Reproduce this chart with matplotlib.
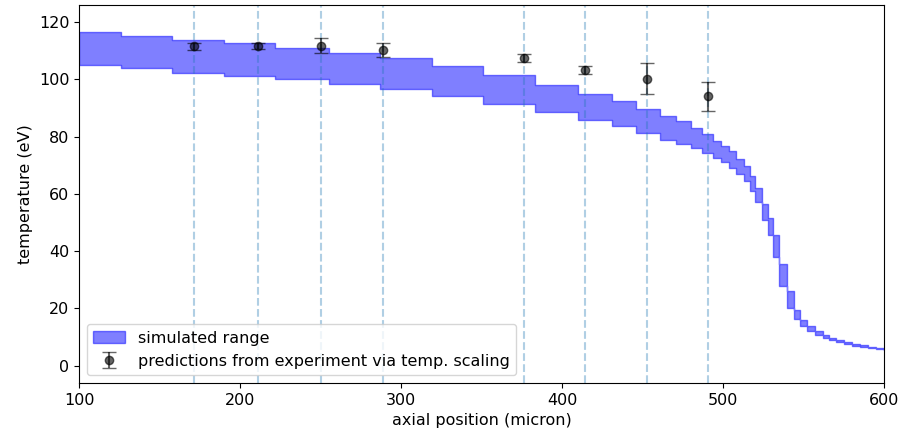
import numpy as np
import matplotlib
matplotlib.use('Agg')
import matplotlib.pyplot as plt

plt.rcParams['font.size'] = 11.5

# simulated temperature band (step edges in micron, upper / lower bound in eV)
x_sim = [100, 126, 158, 190, 222, 255, 287, 319, 351, 383, 410, 431, 446, 461,
         471, 480, 487, 494, 499, 504, 508, 513, 517, 520, 524, 528, 531, 535,
         540, 544, 548, 552, 557, 562, 566, 570, 575, 580, 585, 590, 595, 600]
T_upper = [116.5, 115.0, 113.6, 112.5, 111.0, 109.3, 107.3, 104.5, 101.5, 98.0,
           95.0, 92.5, 89.5, 87.2, 85.4, 83.1, 80.8, 78.6, 76.7, 74.9, 72.2,
           69.7, 66.2, 62.1, 56.3, 51.6, 45.5, 35.5, 26.0, 19.5, 16.0, 13.8,
           12.2, 10.8, 9.8, 9.0, 8.3, 7.6, 7.1, 6.6, 6.2, 6.0]
T_lower = [105.1, 104.0, 102.3, 101.2, 100.0, 98.3, 96.6, 94.0, 91.3, 88.5,
           85.8, 83.7, 81.3, 78.8, 77.5, 76.0, 74.3, 72.5, 71.0, 69.2, 67.0,
           64.5, 61.0, 57.0, 51.0, 45.5, 38.0, 28.0, 20.0, 16.5, 13.8, 12.0,
           10.8, 9.8, 9.0, 8.3, 7.6, 7.0, 6.5, 6.1, 5.8, 5.5]

# experiment-based predictions
x_pred = [171.4, 211.4, 250.3, 288.6, 376.4, 414.3, 452.6, 490.9]
T_pred = [111.5, 111.6, 111.7, 110.3, 107.5, 103.2, 100.2, 94.1]
T_err = [1.3, 1.2, 2.6, 2.5, 1.4, 1.5, 5.4, 5.1]

fig = plt.figure(figsize=(9.03, 4.36), dpi=100)
ax = fig.add_axes([0.0875, 0.1216, 0.8915, 0.8675])

ax.fill_between(x_sim, T_lower, T_upper, step='post', color='blue', alpha=0.5,
                label='simulated range')
for xp in x_pred:
    ax.axvline(xp, color='C0', linestyle='--', alpha=0.35)
ax.errorbar(x_pred, T_pred, yerr=T_err, fmt='o', color='k', alpha=0.6,
            capsize=5, label='predictions from experiment via temp. scaling')

ax.set_xlim(100, 600)
ax.set_ylim(-6, 126)
ax.set_xlabel('axial position (micron)')
ax.set_ylabel('temperature (eV)')
ax.legend(loc='lower left')

fig.savefig('out.png', dpi=100)
